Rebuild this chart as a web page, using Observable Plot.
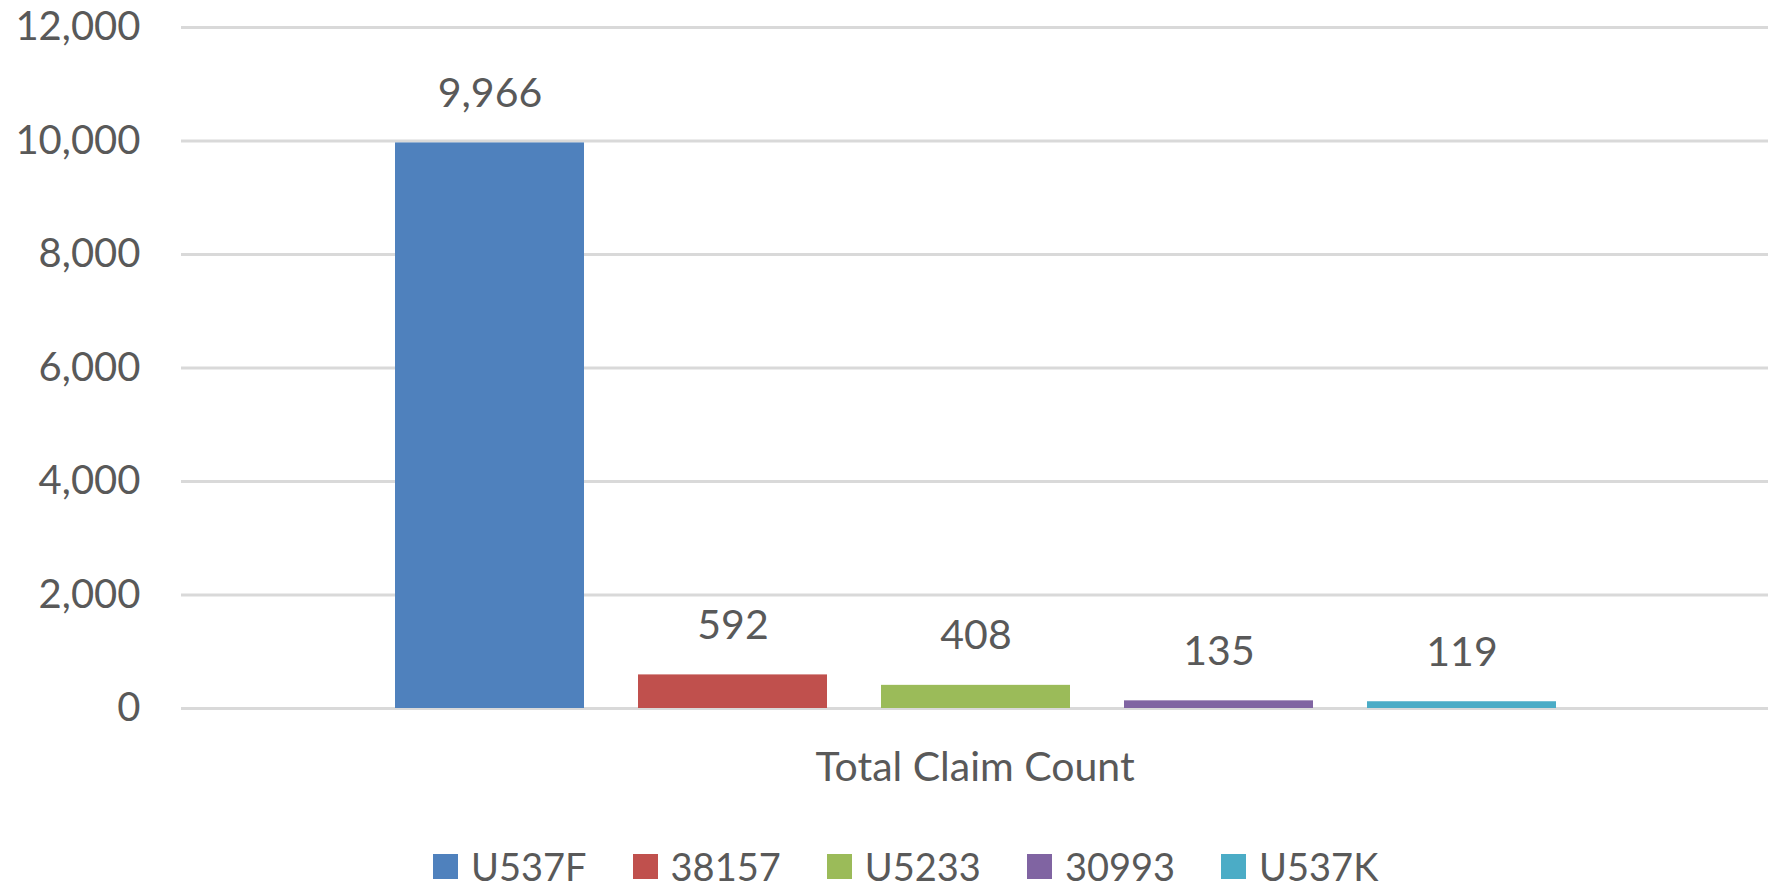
<!DOCTYPE html>
<html>
<head>
<meta charset="utf-8">
<script src="https://cdn.jsdelivr.net/npm/d3@7"></script>
<script src="https://cdn.jsdelivr.net/npm/@observablehq/plot@0.6"></script>
<style>
  html, body { margin: 0; padding: 0; background: #fff; }
  #wrap { position: relative; width: 1776px; height: 890px; overflow: hidden; font-family: Lato, "Open Sans", sans-serif; }
  #legend { position: absolute; top: 851px; left: 433px; height: 30px; line-height: 30px; display: flex; align-items: center; gap: 46px; color: #595959; font-size: 38px; }
  .item { display: flex; align-items: center; gap: 13px; height: 30px; }
  .item span { line-height: 30px; }
  .sw { width: 25px; height: 25px; display: inline-block; }
</style>
</head>
<body>
<div id="wrap">
  <div id="chart"></div>
  <div id="legend"></div>
</div>
<script>
const category = "Total Claim Count";
const series = ["U537F", "38157", "U5233", "30993", "U537K"];
const values = [9966, 592, 408, 135, 119];
const colors = ["#4F81BD", "#C0504D", "#9BBB59", "#8064A2", "#4BACC6"];
const yTicks = [0, 2000, 4000, 6000, 8000, 10000, 12000];

const data = series.map((s, i) => ({series: s, value: values[i]}));
const fmt = d3.format(",");

const chart = Plot.plot({
  width: 1776,
  height: 830,
  marginLeft: 181,
  marginRight: 8,
  marginTop: 27,
  marginBottom: 122,
  style: {fontFamily: "Lato, 'Open Sans', sans-serif", color: "#595959", background: "#fff"},
  x: {domain: series, range: [393, 1559], paddingInner: 0.221, paddingOuter: 0, axis: null},
  y: {domain: [0, 12000], axis: null},
  color: {domain: series, range: colors},
  marks: [
    Plot.gridY(yTicks, {stroke: "#d9d9d9", strokeWidth: 3, strokeOpacity: 1}),
    Plot.axisY(yTicks, {tickSize: 0, tickPadding: 41, tickFormat: fmt, fontSize: 40, fill: "#595959", label: null}),
    Plot.barY(data, {x: "series", y: "value", fill: "series"}),
    Plot.text(data, {x: "series", y: "value", text: d => fmt(d.value), dy: -49, lineAnchor: "middle", fontSize: 41, fill: "#595959"}),
    Plot.text([category], {frameAnchor: "bottom", text: d => d, dy: 59, lineAnchor: "middle", fontSize: 41, fill: "#595959"})
  ]
});
document.getElementById("chart").appendChild(chart);

const legend = document.getElementById("legend");
series.forEach((s, i) => {
  const item = document.createElement("div");
  item.className = "item";
  const sw = document.createElement("span");
  sw.className = "sw";
  sw.style.background = colors[i];
  const label = document.createElement("span");
  label.textContent = s;
  item.appendChild(sw);
  item.appendChild(label);
  legend.appendChild(item);
});
</script>
</body>
</html>
